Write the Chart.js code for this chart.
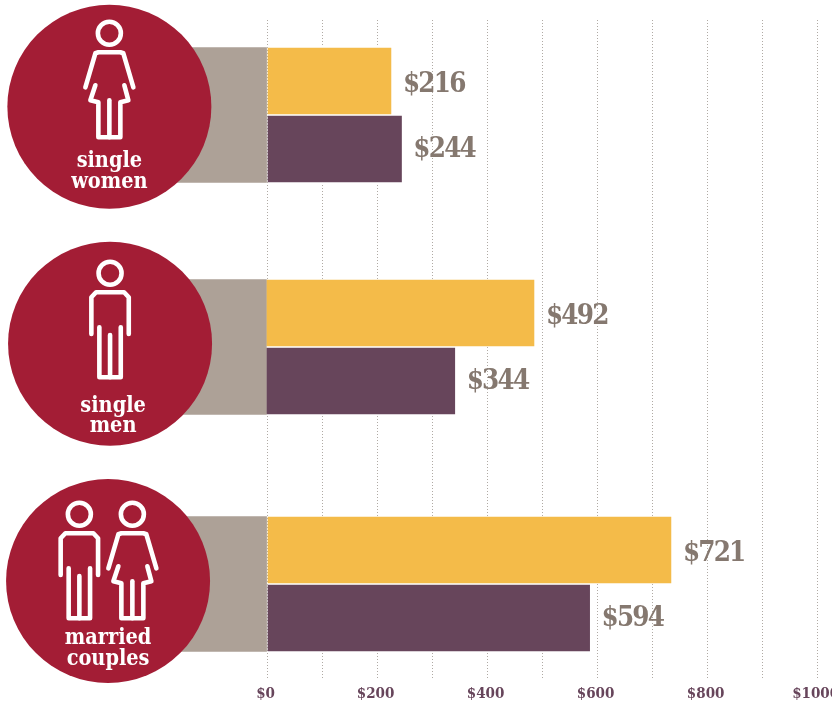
<!DOCTYPE html>
<html>
<head>
<meta charset="utf-8">
<style>
  html, body { margin: 0; padding: 0; background: #fff; }
  canvas { display: block; }
</style>
<script src="https://cdn.jsdelivr.net/npm/chart.js@4/dist/chart.umd.min.js"></script>
</head>
<body>
<canvas id="chart" width="832" height="704"></canvas>
<script>
const categories = ['single women', 'single men', 'married couples'];
const yellowBars = [226, 486, 735];
const purpleBars = [245, 342, 587];
const yellowLabels = ['$216', '$492', '$721'];
const purpleLabels = ['$244', '$344', '$594'];
const backdrop = [-250, 0];
const tickValues = [0, 100, 200, 300, 400, 500, 600, 700, 800, 900, 1000];

const SLAB = "'DejaVu Serif Condensed', 'DejaVu Serif', serif";
const RED = '#a31d35', TAN = '#ada197', YELLOW = '#f4bb49', PURPLE = '#67455b', GREY = '#85786f';

// px tweaks: the rows in the picture are not evenly spaced
const rowNudge = [0, -2.5, 0];
const baseNudge = [0, -1, 0];
const labelNudge = [2.5, 0];
const badge = [
  { dx: -157.7, dy: -8.3, people: [['w', 0, -73.4]], textX: 0, textY: [60, 81] },
  { dx: -157, dy: -5.8, people: [['m', 0, -70.4]], textX: 3, textY: [68, 88.6] },
  { dx: -159, dy: -3, people: [['m', -28.7, -66.7], ['w', 24.3, -66.7]], textX: 0, textY: [63.3, 84] }
];

function drawPerson(ctx, kind, x, y) {
  const line = pts => {
    ctx.beginPath();
    pts.forEach((p, i) => i ? ctx.lineTo(x + p[0], y + p[1]) : ctx.moveTo(x + p[0], y + p[1]));
    ctx.stroke();
  };
  ctx.beginPath();
  ctx.arc(x, y, 11.5, 0, Math.PI * 2);
  ctx.stroke();
  if (kind === 'w') {
    line([[-24, 54], [-14, 20], [-11, 19], [11, 19], [14, 20], [24, 54]]);
    line([[-14, 52], [-19, 67], [-11, 69], [-11, 104], [11, 104], [11, 69], [19, 67], [15, 52]]);
    line([[0, 67], [0, 104]]);
  } else {
    line([[-18.7, 60.7], [-18.7, 24], [-14, 19], [14, 19], [18.7, 24], [18.7, 60.7]]);
    line([[-10.7, 54], [-10.7, 104], [10.7, 104], [10.7, 54]]);
    line([[0, 61.7], [0, 104]]);
  }
}

const rowPlugin = {
  id: 'rowPlugin',
  afterDatasetsUpdate(chart) {
    chart.data.datasets.forEach((ds, d) => {
      chart.getDatasetMeta(d).data.forEach((el, i) => {
        el.y += rowNudge[i];
        if (d < 2) el.base += baseNudge[i];
      });
    });
  },
  afterDatasetsDraw(chart) {
    const ctx = chart.ctx;
    const yScale = chart.scales.y, xScale = chart.scales.x;
    ctx.save();
    // value labels
    ctx.font = 'bold 27.5px ' + SLAB;
    ctx.letterSpacing = '-1.8px';
    ctx.fillStyle = GREY;
    ctx.textAlign = 'left';
    ctx.textBaseline = 'middle';
    [yellowLabels, purpleLabels].forEach((labels, d) => {
      chart.getDatasetMeta(d).data.forEach((el, i) => {
        ctx.fillText(labels[i], el.x + 11.5, el.y + 1 + labelNudge[d]);
      });
    });
    ctx.letterSpacing = '0px';
    // circle badges
    categories.forEach((cat, i) => {
      const b = badge[i];
      const cx = xScale.getPixelForValue(0) + b.dx;
      const cy = yScale.getPixelForValue(i) + b.dy;
      ctx.fillStyle = RED;
      ctx.beginPath();
      ctx.arc(cx, cy, 102, 0, Math.PI * 2);
      ctx.fill();
      ctx.strokeStyle = '#fff';
      ctx.lineWidth = 4.6;
      ctx.lineJoin = 'round';
      ctx.lineCap = 'round';
      b.people.forEach(p => drawPerson(ctx, p[0], cx + p[1], cy + p[2]));
      ctx.fillStyle = '#fff';
      ctx.font = 'bold 21.5px ' + SLAB;
      ctx.textAlign = 'center';
      ctx.textBaseline = 'alphabetic';
      cat.split(' ').forEach((word, n) => ctx.fillText(word, cx + b.textX, cy + b.textY[n]));
    });
    ctx.restore();
  }
};

new Chart(document.getElementById('chart'), {
  type: 'bar',
  plugins: [rowPlugin],
  data: {
    datasets: [
      {
        label: 'yellow',
        data: yellowBars.map((v, i) => ({ x: v, y: i })),
        backgroundColor: YELLOW,
        borderColor: '#fff',
        borderWidth: { top: 1, bottom: 1 },
        borderSkipped: false,
        barThickness: 68,
        order: 1
      },
      {
        label: 'purple',
        data: purpleBars.map((v, i) => ({ x: v, y: i })),
        backgroundColor: PURPLE,
        borderColor: '#fff',
        borderWidth: { top: 1, bottom: 1 },
        borderSkipped: false,
        barThickness: 68,
        order: 2
      },
      {
        label: 'backdrop',
        data: categories.map((c, i) => ({ x: backdrop, y: i })),
        backgroundColor: TAN,
        grouped: false,
        barThickness: 135,
        order: 3
      }
    ]
  },
  options: {
    indexAxis: 'y',
    responsive: false,
    animation: false,
    layout: { padding: { top: 20, left: 0, right: 0, bottom: 0 } },
    plugins: { legend: { display: false }, tooltip: { enabled: false } },
    scales: {
      x: {
        type: 'linear',
        min: -485.5,
        max: 1027,
        afterBuildTicks: s => { s.ticks = tickValues.map(v => ({ value: v })); },
        afterFit: s => { s.height = 26; s.paddingLeft = 0; s.paddingRight = 0; },
        border: { display: false, dash: [1, 2] },
        grid: {
          color: '#b0aaa4',
          lineWidth: 1,
          drawTicks: false
        },
        ticks: {
          autoSkip: false,
          maxRotation: 0,
          padding: 7,
          labelOffset: -1.5,
          color: PURPLE,
          font: { family: SLAB, size: 15, weight: 'bold' },
          callback: v => (v % 200 === 0 ? '$' + v : '')
        }
      },
      y: {
        type: 'linear',
        display: false,
        reverse: true,
        offset: false,
        grid: { offset: false },
        min: -0.4051,
        max: 2.4009
      }
    }
  }
});
</script>
</body>
</html>
